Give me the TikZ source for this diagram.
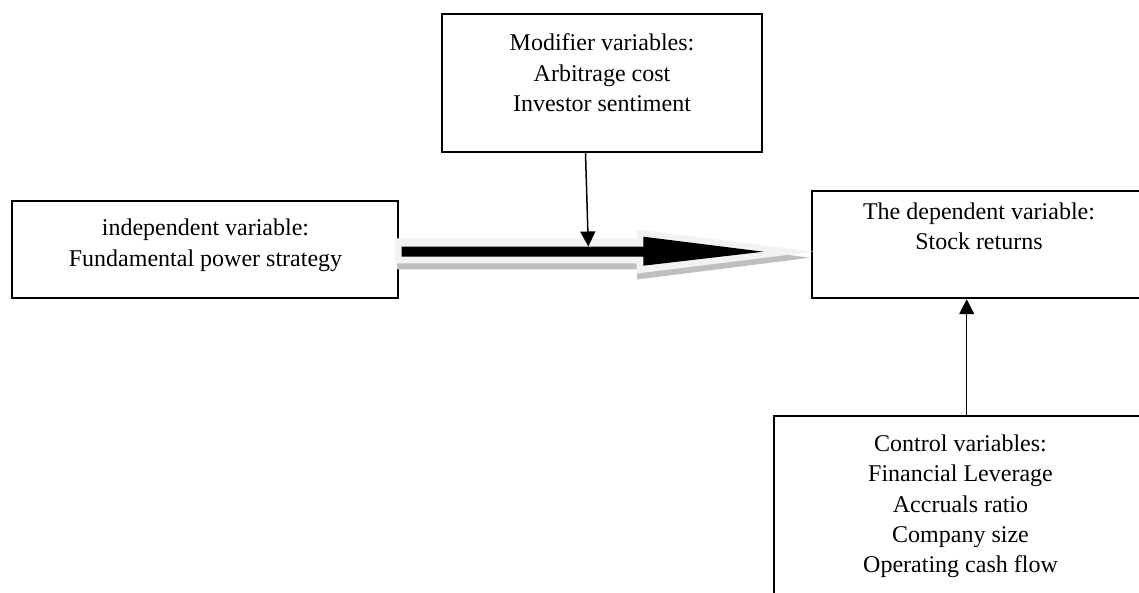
\documentclass[tikz,border=0pt]{standalone}
\usepackage{fontspec}
\setmainfont{Liberation Serif}
\usetikzlibrary{arrows.meta,calc}
\begin{document}
\begin{tikzpicture}[x=1pt,y=-1pt,
  box/.style={draw=black, line width=1.8pt, rectangle, inner sep=0pt},
  txt/.style={font=\fontsize{24}{30.2}\selectfont, align=center, inner sep=0pt, anchor=base},
  conn/.style={line width=1.5pt, -{Triangle[length=15pt,width=15pt]}},
  shadowfill/.style={fill=black!25},
  glowfill/.style={fill=black!5},
  corefill/.style={fill=black}
]
\clip (0,0) rectangle (1139,592);
\fill[white] (0,0) rectangle (1139,592);

% boxes
\node[box, minimum width=319.4pt, minimum height=138.3pt] (mod) at (602,83.2) {};
\node[box, minimum width=386pt, minimum height=97.6pt] (indep) at (205.3,249.5) {};
\node[box, minimum width=333.7pt, minimum height=107.6pt] (dep) at (979.2,244.5) {};
\node[box, minimum width=373pt, minimum height=184.3pt] (ctrl) at (960.5,507.9) {};

% texts (anchor = baseline of the last line)
\node[txt] (modt) at (602,111.2) {Modifier variables:\\Arbitrage cost\\Investor sentiment};
\node[txt] (indt) at (205.5,266) {independent variable:\\Fundamental power strategy};
\node[txt] (dept) at (979,249.8) {The dependent variable:\\Stock returns};
\node[txt] (ctrlt) at (960.5,572.5) {Control variables:\\Financial Leverage\\Accruals ratio\\Company size\\Operating cash flow};

% big block arrow (shadow, glow, core)
\fill[shadowfill] (397,244.3) -- (637,244.3) -- (637,235.5) -- (810,257.7) -- (637,279.5) -- (637,269.3) -- (397,269.3) -- cycle;
\fill[glowfill] (395,238.3) -- (636.7,238.3) -- (636.7,229.5) -- (813.3,251.7) -- (636.7,273.5) -- (636.7,263.3) -- (395,263.3) -- cycle;
\fill[corefill] (401.7,246.7) -- (643.3,246.7) -- (643.3,236.7) -- (763.3,251.7) -- (643.3,265.7) -- (643.3,256.7) -- (401.7,256.7) -- cycle;

% connectors
\coordinate (modtip) at (588.3,246.5);
\draw[conn] ([xshift=-16.5pt]mod.south) -- (modtip);
\coordinate (cx) at (966.7,0);
\draw[conn] (ctrl.north -| cx) -- (dep.south -| cx);
\end{tikzpicture}
\end{document}
